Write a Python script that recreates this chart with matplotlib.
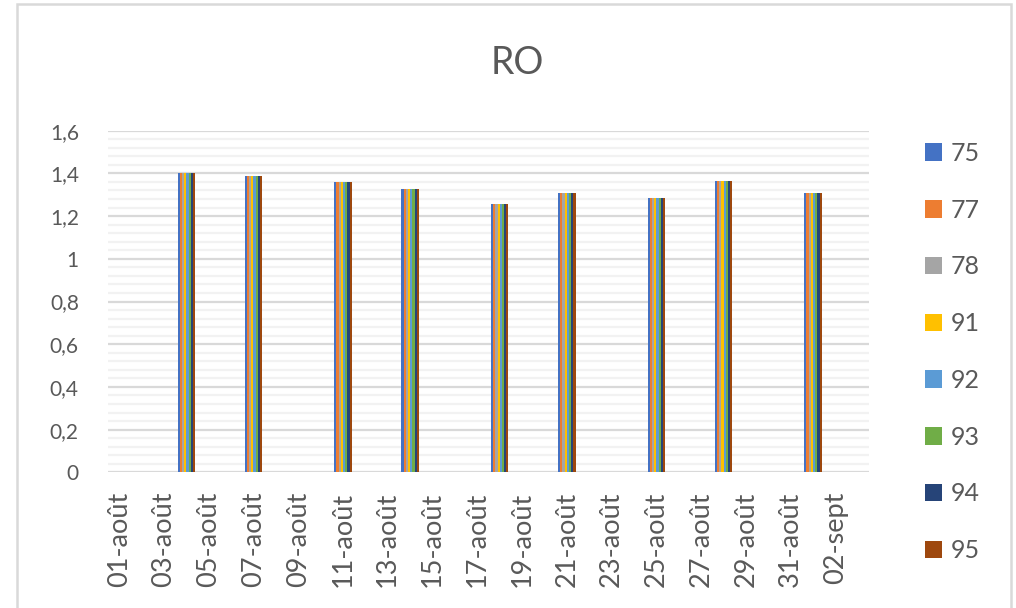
import numpy as np
import pandas as pd
import matplotlib
matplotlib.use("Agg")
import matplotlib.pyplot as plt
import matplotlib.dates as mdates
from matplotlib.patches import Patch, Rectangle
from matplotlib.ticker import FuncFormatter, MultipleLocator

# ========================
# DATA
# ========================
dates = pd.to_datetime(["2020-08-04", "2020-08-07", "2020-08-11", "2020-08-14",
                        "2020-08-18", "2020-08-21", "2020-08-25", "2020-08-28",
                        "2020-09-01"])
ro_values = [1.40, 1.39, 1.36, 1.325, 1.255, 1.31, 1.285, 1.365, 1.31]
series = ["75", "77", "78", "91", "92", "93", "94", "95"]
colors = ["#4472C4", "#ED7D31", "#A5A5A5", "#FFC000",
          "#5B9BD5", "#70AD47", "#264478", "#9E480E"]
tick_dates = pd.date_range("2020-08-01", "2020-09-02", freq="2D")
mois = {8: "août", 9: "sept"}

TXT = "#595959"
plt.rcParams["font.family"] = ["Lato", "DejaVu Sans"]

# ========================
# PLOT
# ========================
fig = plt.figure(figsize=(10.16, 6.08), dpi=100)
ax = fig.add_axes([0.1063, 0.2232, 0.7490, 0.5618])

group_w = 0.78
bar_w = group_w / len(series)
x_base = mdates.date2num(dates)
for i, (name, col) in enumerate(zip(series, colors)):
    offs = (i - (len(series) - 1) / 2) * bar_w
    ax.bar(x_base + offs, ro_values, width=bar_w, color=col, label=name,
           zorder=3, linewidth=0)

x0 = mdates.date2num(pd.Timestamp("2020-08-01"))
ax.set_xlim(x0 - 0.5, x0 + 33.5)
ax.set_ylim(0, 1.6)

ax.yaxis.set_major_locator(MultipleLocator(0.2))
ax.yaxis.set_minor_locator(MultipleLocator(0.04))
ax.yaxis.set_major_formatter(FuncFormatter(
    lambda v, p: f"{v:.1f}".rstrip("0").rstrip(".").replace(".", ",")))
ax.grid(True, which="major", axis="y", color="#D9D9D9", linewidth=1.6, zorder=0)
ax.grid(True, which="minor", axis="y", color="#F2F2F2", linewidth=1.6, zorder=0)

ax.set_xticks(mdates.date2num(tick_dates))
ax.set_xticklabels([f"{d.day:02d}-{mois[d.month]}" for d in tick_dates],
                   rotation=90)

for s in ax.spines.values():
    s.set_visible(False)
ax.tick_params(axis="y", which="both", length=0, pad=21, labelsize=15,
               labelcolor=TXT)
ax.tick_params(axis="x", length=0, pad=14, labelsize=19.5, labelcolor=TXT)

fig.text(0.509, 0.896, "RO", ha="center", va="center", fontsize=27, color=TXT)

handles = [Patch(facecolor=c, edgecolor="none") for c in colors]
fig.legend(handles, series, loc="center left", bbox_to_anchor=(0.888, 0.421),
           frameon=False, fontsize=18, labelcolor=TXT, handlelength=0.7,
           handleheight=0.7, handletextpad=0.35, labelspacing=1.35)

fig.add_artist(Rectangle((17 / 1016, -0.02), (1011 - 17) / 1016, 1.0 - 4 / 608 + 0.02,
                         transform=fig.transFigure, fill=False,
                         edgecolor="#D9D9D9", linewidth=1.8))

plt.savefig("out.png", dpi=100)
plt.close()
